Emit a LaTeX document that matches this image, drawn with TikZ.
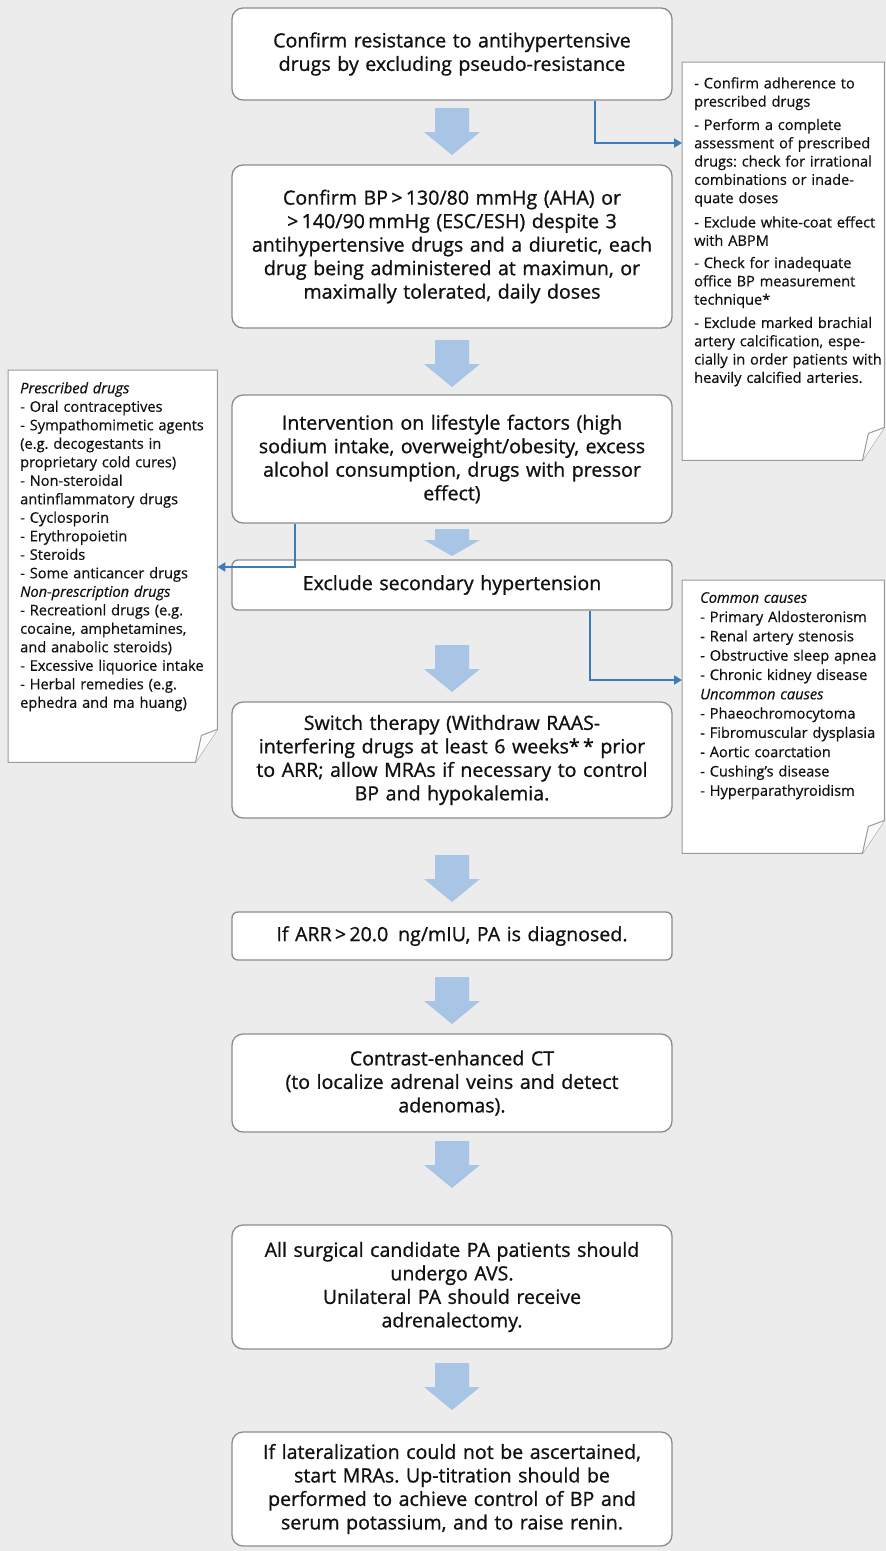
\documentclass[tikz,border=0pt]{standalone}
\usepackage{fontspec}
\setmainfont{Open Sans}
\newfontfamily\mainfnt[FakeBold=0.9]{Open Sans}
\newfontfamily\sidefnt[FakeBold=0.5]{Open Sans}
\usetikzlibrary{arrows.meta,calc}
\frenchspacing
\definecolor{bg}{HTML}{ECECEC}
\definecolor{boxline}{HTML}{8C8C8C}
\definecolor{sideline}{HTML}{9A9A9A}
\definecolor{afill}{HTML}{A9C5E6}
\definecolor{conncol}{HTML}{3B7DB8}
\definecolor{txt}{HTML}{111111}
\newcommand\myfoldbox[1]{%
  \draw[sidebox] (#1.north west) -- (#1.north east) -- ($(#1.south east)+(0,-33)$)
    -- ($(#1.south east)+(-22,0)$) -- (#1.south west) -- cycle;
  \draw[sidebox, fill=white!96!gray] ($(#1.south east)+(-22,0)$) -- ($(#1.south east)+(-16,-27)$)
    -- ($(#1.south east)+(0,-33)$);
}
\begin{document}
\frenchspacing
\begin{tikzpicture}[x=1pt,y=-1pt,
  mainbox/.style={draw=boxline, line width=1.3pt, fill=white, rounded corners=11pt,
    minimum width=440pt, text width=436pt, align=center, inner sep=0pt,
    font=\mainfnt\fontsize{19.6}{23.5}\selectfont, text=txt},
  flatbox/.style={mainbox, rounded corners=6pt},
  sidebox/.style={draw=sideline, line width=1pt, fill=white},
  sidearea/.style={inner sep=0pt, minimum width=#1},
  sidetxt/.style={inner sep=0pt, anchor=north west, align=left, text=txt, text width=200pt},
  connector/.style={draw=conncol, line width=2.6pt, -{Triangle[length=8pt,width=9pt]}},
  pics/barrow/.style 2 args={code={\fill[afill] (-17,0) -- (17,0) -- (17,#1) -- (28,#1)
    -- (0,#1+#2) -- (-28,#1) -- (-17,#1) -- cycle;}}
]
\fill[bg] (0,0) rectangle (886,1551);
\useasboundingbox (0,0) rectangle (886,1551);

% main boxes
\node[mainbox, minimum height=92pt] (b1) at (452,54)
  {\raisebox{-2pt}{\parbox{436pt}{\centering Confirm resistance to antihypertensive\\drugs by excluding pseudo-resistance}}};
\node[mainbox, minimum height=163pt] (b2) at (452,246.5)
  {Confirm BP\,>\,130/80 mmHg (AHA) or\\>\,140/90\,mmHg (ESC/ESH) despite 3\\antihypertensive drugs and a diuretic, each\\drug being administered at maximun, or\\maximally tolerated, daily doses};
\node[mainbox, minimum height=128pt] (b3) at (452,459)
  {Intervention on lifestyle factors (high\\sodium intake, overweight/obesity, excess\\alcohol consumption, drugs with pressor\\effect)};
\node[flatbox, minimum height=50pt] (b4) at (452,585)
  {Exclude secondary hypertension};
\node[mainbox, minimum height=116pt] (b5) at (452,760)
  {\raisebox{-6pt}{\parbox{436pt}{\centering Switch therapy (Withdraw RAAS-\\interfering drugs at least 6 weeks*\,* prior\\to ARR; allow MRAs if necessary to control\\BP and hypokalemia.}}};
\node[flatbox, minimum height=48pt] (b6) at (452,936)
  {If ARR\,>\,20.0\, ng/mIU, PA is diagnosed.};
\node[mainbox, minimum height=98pt] (b7) at (452,1083)
  {Contrast-enhanced CT\\(to localize adrenal veins and detect\\adenomas).};
\node[mainbox, minimum height=124pt] (b8) at (452,1287)
  {All surgical candidate PA patients should\\undergo AVS.\\Unilateral PA should receive\\adrenalectomy.};
\node[mainbox, minimum height=114pt] (b9) at (452,1489)
  {If lateralization could not be ascertained,\\start MRAs. Up-titration should be\\performed to achieve control of BP and\\serum potassium, and to raise renin.};

% block arrows
\pic at (452,108) {barrow={24}{23}};
\pic at (452,340) {barrow={24}{23}};
\pic at (452,529) {barrow={11}{16}};
\pic at (452,645) {barrow={24}{23}};
\pic at (452,855) {barrow={24}{23}};
\pic at (452,977) {barrow={24}{23}};
\pic at (452,1141) {barrow={24}{23}};
\pic at (452,1363) {barrow={24}{23}};

% side boxes
\node[sidearea=202pt, minimum height=398pt, anchor=north west] (sR1) at (682,62) {};
\node[sidearea=209pt, minimum height=392pt, anchor=north west] (sL) at (8,370) {};
\node[sidearea=202pt, minimum height=273pt, anchor=north west] (sR2) at (682,580) {};
\myfoldbox{sR1}
\myfoldbox{sL}
\myfoldbox{sR2}

\node[sidetxt, font=\sidefnt\fontsize{14.6}{18.3}\selectfont] (tR1) at ($(sR1.north west)+(12,15)$)
  {- Confirm adherence to\\prescribed drugs\\[5pt]
   - Perform a complete\\assessment of prescribed\\drugs: check for irrational\\combinations or inade-\\quate doses\\[6pt]
   - Exclude white-coat effect\\with ABPM\\[4pt]
   - Check for inadequate\\office BP measurement\\technique*\\[5pt]
   - Exclude marked brachial\\artery calcification, espe-\\cially in order patients with\\heavily calcified arteries.};
\node[sidetxt, font=\sidefnt\fontsize{14.6}{18.5}\selectfont] (tL) at ($(sL.north west)+(12,12)$)
  {\textit{Prescribed drugs}\\- Oral contraceptives\\- Sympathomimetic agents\\(e.g. decogestants in\\proprietary cold cures)\\- Non-steroidal\\antinflammatory drugs\\- Cyclosporin\\- Erythropoietin\\- Steroids\\- Some anticancer drugs\\\textit{Non-prescription drugs}\\- Recreationl drugs (e.g.\\cocaine, amphetamines,\\and anabolic steroids)\\- Excessive liquorice intake\\- Herbal remedies (e.g.\\ephedra and ma huang)};
\node[sidetxt, font=\sidefnt\fontsize{14.6}{19.3}\selectfont] (tR2) at ($(sR2.north west)+(18,12)$)
  {\textit{Common causes}\\- Primary Aldosteronism\\- Renal artery stenosis\\- Obstructive sleep apnea\\- Chronic kidney disease\\\textit{Uncommon causes}\\- Phaeochromocytoma\\- Fibromuscular dysplasia\\- Aortic coarctation\\- Cushing’s disease\\- Hyperparathyroidism};

% connectors
\coordinate (k1) at (595,143);
\coordinate (k2) at (295,567);
\coordinate (k3) at (590,680);
\draw[connector] (b1.south -| k1) |- (sR1.west |- k1);
\draw[connector] (b3.south -| k2) |- (sL.east |- k2);
\draw[connector] (b4.south -| k3) |- (sR2.west |- k3);
\end{tikzpicture}
\end{document}
